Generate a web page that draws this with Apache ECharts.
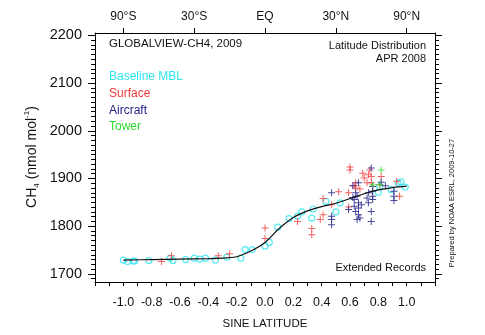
<!DOCTYPE html>
<html>
<head>
<meta charset="utf-8">
<script src="https://cdn.jsdelivr.net/npm/echarts@6/dist/echarts.min.js"></script>
<style>html,body{margin:0;padding:0;background:#fff;}#c{width:485px;height:335px;}</style>
</head>
<body>
<div id="c"></div>
<script>
// ---- data ----
const xTickLabels = [-1.0, -0.8, -0.6, -0.4, -0.2, 0.0, 0.2, 0.4, 0.6, 0.8, 1.0];
const topTickValues = [-1, -0.5, 0, 0.5, 1];
const topTickLabels = ['90°S', '30°S', 'EQ', '30°N', '90°N'];
const yTickLabels = [1700, 1800, 1900, 2000, 2100, 2200];

const curveX = [-1.0, -0.8, -0.6, -0.4, -0.3, -0.2, -0.1, 0.0, 0.1, 0.2, 0.3, 0.4, 0.5, 0.6, 0.7, 0.8, 0.9, 1.0];
const curveY = [1729, 1730, 1731, 1732, 1733, 1736, 1748, 1766, 1795, 1818, 1832, 1841, 1848, 1858, 1868, 1876, 1881, 1884];

const mblX = [-1.00, -0.97, -0.93, -0.92, -0.82, -0.67, -0.65, -0.56, -0.50, -0.46, -0.42, -0.35, -0.27, -0.17, -0.14, -0.09, 0.00, 0.03, 0.09, 0.17, 0.23, 0.26, 0.33, 0.34, 0.43, 0.50, 0.53, 0.80, 0.81, 0.89, 0.94, 0.96, 0.99];
const mblY = [1729, 1726, 1727, 1727, 1728, 1733, 1728, 1730, 1733, 1731, 1733, 1729, 1735, 1733, 1751, 1751, 1758, 1766, 1798, 1816, 1821, 1830, 1817, 1836, 1852, 1830, 1849, 1871, 1883, 1877, 1891, 1893, 1882];

const surfX = [-0.73, -0.66, -0.33, -0.25, 0.00, 0.00, 0.23, 0.33, 0.33, 0.39, 0.41, 0.41, 0.47, 0.52, 0.59, 0.59, 0.60, 0.60, 0.63, 0.64, 0.64, 0.67, 0.69, 0.70, 0.72, 0.73, 0.74, 0.75, 0.75, 0.81, 0.82, 0.93, 0.95];
const surfY = [1726, 1738, 1738, 1742, 1796, 1774, 1810, 1795, 1782, 1814, 1824, 1858, 1845, 1872, 1870, 1840, 1924, 1918, 1885, 1891, 1880, 1878, 1911, 1901, 1891, 1908, 1918, 1904, 1891, 1887, 1904, 1894, 1863];

const airX = [0.47, 0.47, 0.47, 0.47, 0.59, 0.62, 0.64, 0.65, 0.66, 0.63, 0.66, 0.63, 0.66, 0.64, 0.66, 0.67, 0.65, 0.62, 0.68, 0.73, 0.72, 0.73, 0.75, 0.75, 0.75, 0.76, 0.76, 0.76, 0.76, 0.82, 0.85, 0.91, 0.91, 0.91];
const airY = [1870, 1821, 1814, 1803, 1835, 1885, 1870, 1863, 1891, 1856, 1849, 1842, 1838, 1831, 1824, 1817, 1814, 1860, 1845, 1870, 1859, 1849, 1922, 1831, 1810, 1883, 1873, 1863, 1856, 1892, 1885, 1873, 1863, 1854];

const towerX = [0.82, 0.76, 0.81];
const towerY = [1918, 1887, 1887];

// ---- build ----
const zip = (a, b) => a.map((v, i) => [v, b[i]]);
const FONT = '"Liberation Sans", Arial, Helvetica, sans-serif';
const PLUS = 'path://M3,0h1v3h3v1h-3v3h-1v-3h-3v-1h3z';
const C_MBL = '#30e4ee', C_SURF = '#f03a3a', C_AIR = '#1c1c84', C_TOW = '#2edc2e';

const chart = echarts.init(document.getElementById('c'), null, {renderer: 'canvas'});
// main plot box
const W = 485, HT = 335;
const G = {left: 95, right: 50, top: 33, bottom: 53};
const yMin = 1683, yMax = 2205;
// minor-tick strips: same pixel scale, range 1690..2200 (multiples of 10)
const tMin = 1690, tMax = 2200;
const pxPerUnit = (HT - G.top - G.bottom) / (yMax - yMin);
const stripTop = G.top + (yMax - tMax) * pxPerUnit;
const stripBottom = G.bottom + (tMin - yMin) * pxPerUnit;
const TICK = 4;
const gridL = {left: G.left - TICK, right: W - G.left, top: stripTop, bottom: stripBottom, containLabel: false};
const gridR = {left: W - G.right, right: G.right - TICK, top: stripTop, bottom: stripBottom, containLabel: false};

const lineBlack = {show: true, onZero: false, lineStyle: {color: '#000', width: 1}};

const stripX = (gi) => ({
  type: 'value', gridIndex: gi, min: 0, max: 1,
  axisLine: {show: false}, axisTick: {show: false}, axisLabel: {show: false}, splitLine: {show: false}
});
const stripY = (gi) => ({
  type: 'value', gridIndex: gi, min: tMin, max: tMax, interval: 10,
  axisLine: {show: false}, axisTick: {show: false}, axisLabel: {show: false},
  splitLine: {show: true, lineStyle: {color: '#000', width: 1}}
});

chart.setOption({
  backgroundColor: '#fff',
  animation: false,
  textStyle: {fontFamily: FONT},
  grid: [Object.assign({containLabel: false}, G), gridL, gridR],
  xAxis: [
    {
      type: 'value', position: 'bottom', min: -1.2, max: 1.2, interval: 0.1,
      axisLine: lineBlack,
      axisTick: {show: true, inside: false, length: 4, lineStyle: {color: '#000'}},
      axisLabel: {
        show: true, margin: 14, fontSize: 12.5, color: '#111', fontFamily: FONT,
        formatter: v => { const r = Math.round(v * 10); return (Math.abs(r) <= 10 && r % 2 === 0) ? (r / 10).toFixed(1) : ''; }
      },
      splitLine: {show: false},
      name: 'SINE LATITUDE', nameLocation: 'middle', nameGap: 36,
      nameTextStyle: {fontSize: 11.5, color: '#111', fontFamily: FONT}
    },
    {
      type: 'value', position: 'top', min: -1.2, max: 1.2,
      axisLine: lineBlack,
      axisTick: {show: true, length: 5, customValues: topTickValues, lineStyle: {color: '#000'}},
      axisLabel: {
        show: true, margin: 10, fontSize: 12, color: '#111', fontFamily: FONT,
        customValues: topTickValues,
        formatter: v => { const i = topTickValues.findIndex(t => Math.abs(t - v) < 1e-6); return i >= 0 ? topTickLabels[i] : ''; }
      },
      splitLine: {show: false}
    },
    stripX(1),
    stripX(2)
  ],
  yAxis: [
    {
      type: 'value', position: 'left', min: yMin, max: yMax,
      axisLine: lineBlack,
      axisTick: {show: true, length: 7, customValues: yTickLabels, lineStyle: {color: '#000'}},
      axisLabel: {show: true, margin: 13, fontSize: 14.5, color: '#111', fontFamily: FONT, customValues: yTickLabels, formatter: v => String(Math.round(v))},
      splitLine: {show: false}
    },
    {
      type: 'value', position: 'right', min: yMin, max: yMax,
      axisLine: lineBlack,
      axisTick: {show: true, length: 7, customValues: yTickLabels, lineStyle: {color: '#000'}},
      axisLabel: {show: true, customValues: yTickLabels, formatter: () => ''},
      splitLine: {show: false}
    },
    stripY(1),
    stripY(2)
  ],
  series: [
    {
      type: 'scatter', name: 'Baseline MBL', xAxisIndex: 0, yAxisIndex: 0,
      data: zip(mblX, mblY), symbol: 'circle', symbolSize: 6,
      itemStyle: {color: 'rgba(255,255,255,0)', borderColor: C_MBL, borderWidth: 1.2}
    },
    {
      type: 'scatter', name: 'Surface', xAxisIndex: 0, yAxisIndex: 0,
      data: zip(surfX, surfY), symbol: PLUS, symbolSize: 7,
      itemStyle: {color: C_SURF}
    },
    {
      type: 'scatter', name: 'Aircraft', xAxisIndex: 0, yAxisIndex: 0,
      data: zip(airX, airY), symbol: PLUS, symbolSize: 7,
      itemStyle: {color: C_AIR}
    },
    {
      type: 'scatter', name: 'Tower', xAxisIndex: 0, yAxisIndex: 0,
      data: zip(towerX, towerY), symbol: PLUS, symbolSize: 7,
      itemStyle: {color: C_TOW}
    },
    {
      type: 'line', name: 'fit', xAxisIndex: 0, yAxisIndex: 0,
      data: zip(curveX, curveY), smooth: 0.35, showSymbol: false, symbol: 'none',
      lineStyle: {color: '#111', width: 1.2}, z: 5
    },
    {type: 'scatter', name: 'stripL', xAxisIndex: 2, yAxisIndex: 2, data: [], silent: true},
    {type: 'scatter', name: 'stripR', xAxisIndex: 3, yAxisIndex: 3, data: [], silent: true}
  ],
  graphic: [
    {type: 'text', left: 109, top: 38, style: {text: 'GLOBALVIEW-CH4, 2009', fontSize: 11.5, fill: '#111', fontFamily: FONT}},
    {type: 'text', right: 59, top: 40, style: {text: 'Latitude Distribution', fontSize: 11, fill: '#111', fontFamily: FONT, textAlign: 'right'}},
    {type: 'text', right: 59, top: 53, style: {text: 'APR 2008', fontSize: 11, fill: '#111', fontFamily: FONT, textAlign: 'right'}},
    {type: 'text', left: 109, top: 71, style: {text: 'Baseline MBL', fontSize: 12, fill: C_MBL, fontFamily: FONT}},
    {type: 'text', left: 109, top: 88, style: {text: 'Surface', fontSize: 12, fill: C_SURF, fontFamily: FONT}},
    {type: 'text', left: 109, top: 104.5, style: {text: 'Aircraft', fontSize: 12, fill: C_AIR, fontFamily: FONT}},
    {type: 'text', left: 109, top: 121, style: {text: 'Tower', fontSize: 12, fill: C_TOW, fontFamily: FONT}},
    {type: 'text', right: 59, top: 262, style: {text: 'Extended Records', fontSize: 11, fill: '#111', fontFamily: FONT, textAlign: 'right'}},
    {
      type: 'text', x: 32, y: 157, rotation: Math.PI / 2,
      style: {
        text: '{n|CH}{s|4}{n| (nmol mol}{p|-1}{n|)}',
        fill: '#111', align: 'center', verticalAlign: 'middle', fontFamily: FONT,
        rich: {
          n: {fontSize: 14, fontFamily: FONT, fill: '#111', lineHeight: 18, verticalAlign: 'middle'},
          s: {fontSize: 8, fontFamily: FONT, fill: '#111', lineHeight: 18, verticalAlign: 'bottom'},
          p: {fontSize: 8, fontFamily: FONT, fill: '#111', lineHeight: 18, verticalAlign: 'top'}
        }
      }
    },
    {
      type: 'text', x: 452, y: 203, rotation: Math.PI / 2,
      style: {text: 'Prepared by NOAA ESRL, 2009-10-27', fontSize: 7.5, fill: '#111', fontFamily: FONT, align: 'center', verticalAlign: 'middle'}
    }
  ]
});
</script>
</body>
</html>
